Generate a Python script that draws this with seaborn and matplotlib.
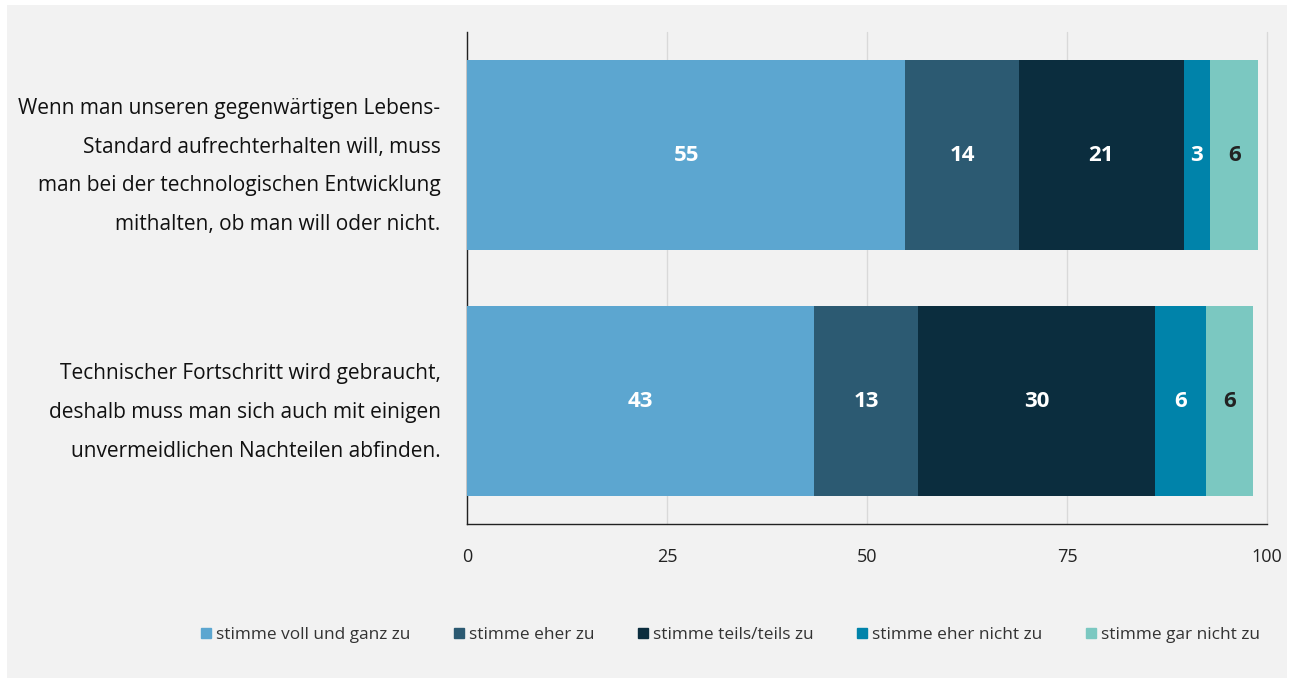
import matplotlib
matplotlib.use("Agg")
import matplotlib.pyplot as plt
import seaborn as sns
import pandas as pd
import numpy as np
from matplotlib.lines import Line2D

categories = [
    "Wenn man unseren gegenwärtigen Lebens-\nStandard aufrechterhalten will, muss\nman bei der technologischen Entwicklung\nmithalten, ob man will oder nicht.",
    "Technischer Fortschritt wird gebraucht,\ndeshalb muss man sich auch mit einigen\nunvermeidlichen Nachteilen abfinden.",
]
series = ["stimme voll und ganz zu", "stimme eher zu", "stimme teils/teils zu",
          "stimme eher nicht zu", "stimme gar nicht zu"]
voll = [54.8, 43.4]
eher = [14.2, 13.0]
teils = [20.6, 29.6]
eher_nicht = [3.3, 6.4]
gar_nicht = [6.0, 5.9]
colors = ["#5ca6d0", "#2c5a72", "#0b2d3e", "#0083aa", "#7bc8c1"]
label_colors = ["white", "white", "white", "white", "#222222"]
xticks = [0, 25, 50, 75, 100]

values = [voll, eher, teils, eher_nicht, gar_nicht]
df = pd.DataFrame({s: v for s, v in zip(series, values)})
df["Kategorie"] = categories
cum = df[series].cumsum(axis=1)

sns.set_theme(style="white")
plt.rcParams["font.family"] = ["Open Sans", "DejaVu Sans"]

fig = plt.figure(figsize=(12.94, 6.83), dpi=100, facecolor="white")
bg = fig.add_axes([0.0054, 0.0073, 0.989, 0.985])
bg.set_facecolor("#f2f2f2")
bg.set_xticks([]); bg.set_yticks([])
for s in bg.spines.values():
    s.set_visible(False)
bg.set_zorder(-10)

ax = fig.add_axes([0.3609, 0.2328, 0.6182, 0.7203])
ax.set_facecolor("none")

for i in reversed(range(len(series))):
    tmp = pd.DataFrame({"Kategorie": categories, "wert": cum[series[i]].values})
    sns.barplot(data=tmp, y="Kategorie", x="wert", color=colors[i], orient="h",
                width=0.77, ax=ax, saturation=1, zorder=3, linewidth=0,
                edgecolor="none")

for r in range(len(categories)):
    for i, s in enumerate(series):
        v = df.loc[r, s]
        c = cum.loc[r, s] - v / 2
        ax.text(c, r, f"{int(round(v))}", ha="center", va="center",
                color=label_colors[i], fontsize=16, fontweight="bold", zorder=5)

ax.set_xlim(0, 100)
ax.set_ylim(1.5, -0.5)
ax.set_xticks(xticks)
ax.set_xticklabels([str(t) for t in xticks], fontsize=13, color="#222222")
ax.set_xlabel("")
ax.set_ylabel("")
ax.tick_params(axis="x", length=0, pad=17)
ax.tick_params(axis="y", length=0, pad=19)
for lab in ax.get_yticklabels():
    lab.set_fontsize(15)
    lab.set_color("#111111")
    lab.set_linespacing(2.12)
    lab.set_ha("right")
ax.grid(axis="x", color="#d9d9d9", linewidth=1, zorder=0)
for gl in ax.get_xgridlines():
    gl.set_clip_on(False)
ax.set_axisbelow(True)
for k in ["top", "right"]:
    ax.spines[k].set_visible(False)
ax.spines["left"].set_color("#222222")
ax.spines["bottom"].set_color("#222222")
ax.spines["left"].set_linewidth(1)
ax.spines["bottom"].set_linewidth(1)

handles = [Line2D([0], [0], marker="s", linestyle="", markersize=7,
                  markerfacecolor=c, markeredgecolor=c) for c in colors]
fig.legend(handles, series, loc="center", bbox_to_anchor=(0.5645, 0.0703), ncol=5,
           frameon=False, fontsize=12.4, handlelength=0.6, handletextpad=0.3,
           columnspacing=2.5, labelcolor="#333333")

fig.savefig("out.png", dpi=100, facecolor="white")
